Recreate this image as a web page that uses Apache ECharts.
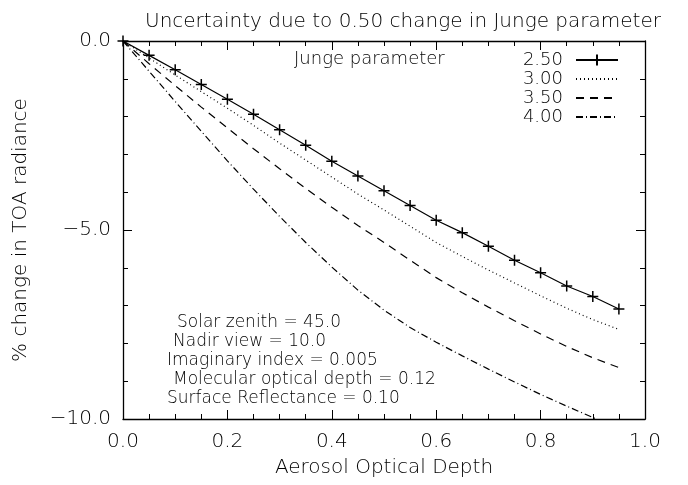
<!DOCTYPE html>
<html>
<head>
<meta charset="utf-8">
<script src="https://cdn.jsdelivr.net/npm/echarts@6/dist/echarts.min.js"></script>
<style>
  html, body { margin: 0; padding: 0; background: #fff; }
  #uncertainty-chart { width: 688px; height: 485px; }
</style>
</head>
<body>
<div id="uncertainty-chart"></div>
<script>
// aerosol optical depth (x)
var aod = [0, 0.05, 0.10, 0.15, 0.20, 0.25, 0.30, 0.35, 0.40, 0.45, 0.50,
           0.55, 0.60, 0.65, 0.70, 0.75, 0.80, 0.85, 0.90, 0.95];
// % change in TOA radiance for each Junge parameter
var junge250 = [0, -0.38, -0.76, -1.15, -1.54, -1.94, -2.35, -2.76, -3.18, -3.57, -3.96,
                -4.35, -4.74, -5.07, -5.43, -5.80, -6.13, -6.48, -6.76, -7.09];
var junge300 = [0, -0.45, -0.90, -1.34, -1.78, -2.23, -2.70, -3.15, -3.60, -4.05, -4.47,
                -4.90, -5.33, -5.70, -6.06, -6.40, -6.74, -7.07, -7.37, -7.63];
var junge350 = [0, -0.60, -1.18, -1.75, -2.30, -2.85, -3.38, -3.90, -4.40, -4.88, -5.33,
                -5.80, -6.26, -6.66, -7.04, -7.40, -7.75, -8.08, -8.38, -8.64];
var junge400 = [0, -0.80, -1.60, -2.39, -3.17, -3.92, -4.64, -5.33, -5.98, -6.59, -7.12,
                -7.58, -7.97, -8.33, -8.68, -9.02, -9.35, -9.66, -9.96, -10.26];
var legendNames = ["2.50", "3.00", "3.50", "4.00"];
var xTicks = { min: 0, max: 1, interval: 0.2 };
var yTicks = { min: -10, max: 0, interval: 5 };
var infoLines = [
  "Solar zenith = 45.0",
  "Nadir view = 10.0",
  "Imaginary index = 0.005",
  "Molecular optical depth = 0.12",
  "Surface Reflectance = 0.10"
];

var FONT = "DejaVu Sans";

function pairs(ys) {
  var out = [];
  for (var i = 0; i < aod.length; i++) {
    out.push([aod[i], ys[i]]);
  }
  return out;
}

function fmt(v) {
  return v.toFixed(1).replace("-", "\u2212");
}

function makeX(pos, showLabel) {
  return {
    type: "value",
    position: pos,
    min: xTicks.min,
    max: xTicks.max,
    interval: xTicks.interval,
    name: showLabel ? "Aerosol Optical Depth" : "",
    nameLocation: "middle",
    nameGap: 39,
    nameTextStyle: { color: "#000", fontSize: 20, fontFamily: FONT, fontWeight: 200 },
    axisLine: { show: true, onZero: false, lineStyle: { color: "#000", width: 1.3 } },
    axisTick: { show: true, inside: true, length: 9, lineStyle: { color: "#000", width: 1 } },
    minorTick: { show: true, splitNumber: 4, length: 5, lineStyle: { color: "#000", width: 1 } },
    splitLine: { show: false },
    axisLabel: {
      show: showLabel,
      margin: 13,
      color: "#000",
      fontSize: 20,
      fontFamily: FONT,
      fontWeight: 200,
      formatter: fmt
    }
  };
}

function makeY(pos, showLabel) {
  return {
    type: "value",
    position: pos,
    min: yTicks.min,
    max: yTicks.max,
    interval: yTicks.interval,
    name: showLabel ? "% change in TOA radiance" : "",
    nameLocation: "middle",
    nameGap: 92,
    nameRotate: 90,
    nameTextStyle: { color: "#000", fontSize: 20, fontFamily: FONT, fontWeight: 200 },
    axisLine: { show: true, onZero: false, lineStyle: { color: "#000", width: 1.3 } },
    axisTick: { show: true, inside: true, length: 9, lineStyle: { color: "#000", width: 1 } },
    minorTick: { show: true, splitNumber: 5, length: 5, lineStyle: { color: "#000", width: 1 } },
    splitLine: { show: false },
    axisLabel: {
      show: showLabel,
      margin: 12,
      color: "#000",
      fontSize: 20,
      fontFamily: FONT,
      fontWeight: 200,
      formatter: fmt
    }
  };
}

var plusSymbol = "path://M0,-6 L0,6 M-6,0 L6,0";

function lineSeries(name, ys, dash, withMarks) {
  return {
    name: name,
    type: "line",
    data: pairs(ys),
    xAxisIndex: 0,
    yAxisIndex: 0,
    clip: true,
    silent: true,
    symbol: withMarks ? plusSymbol : "none",
    symbolSize: 11,
    showSymbol: withMarks,
    // series without marks get an invisible legend symbol
    itemStyle: withMarks
      ? { color: "transparent", borderColor: "#000", borderWidth: 1.5 }
      : { color: "transparent", borderColor: "transparent", borderWidth: 0 },
    lineStyle: { color: "#000", width: 1.2, type: dash },
    emphasis: { disabled: true },
    animation: false
  };
}

var infoTop = [314, 333, 352, 371, 390];
var infoLeft = [177, 173, 167, 173, 167];
var graphics = [];
for (var k = 0; k < infoLines.length; k++) {
  graphics.push({
    type: "text",
    left: infoLeft[k],
    top: infoTop[k],
    style: { text: infoLines[k], fill: "#000", fontSize: 17, fontFamily: FONT, fontWeight: 200 }
  });
}

var option = {
  backgroundColor: "#fff",
  animation: false,
  title: [
    {
      text: "Uncertainty due to 0.50 change in Junge parameter",
      left: 140,
      top: 7,
      textStyle: { color: "#000", fontSize: 20, fontFamily: FONT, fontWeight: 200 }
    },
    {
      text: "Junge parameter",
      left: 289,
      top: 45,
      textStyle: { color: "#000", fontSize: 18, fontFamily: FONT, fontWeight: 200 }
    }
  ],
  legend: {
    data: legendNames,
    orient: "vertical",
    right: 64,
    top: 46,
    align: "right",
    itemWidth: 42,
    itemHeight: 14,
    itemGap: 1,
    selectedMode: false,
    textStyle: {
      color: "#000", fontSize: 18, lineHeight: 16, fontFamily: FONT, fontWeight: 200,
      padding: [0, 8, 0, 0]
    }
  },
  grid: { left: 123, right: 43, top: 41, bottom: 66 },
  xAxis: [makeX("bottom", true), makeX("top", false)],
  yAxis: [makeY("left", true), makeY("right", false)],
  graphic: graphics,
  series: [
    lineSeries(legendNames[0], junge250, "solid", true),
    lineSeries(legendNames[1], junge300, [1, 3], false),
    lineSeries(legendNames[2], junge350, [8, 6], false),
    lineSeries(legendNames[3], junge400, [7, 3, 1, 3], false)
  ]
};

var chart = echarts.init(document.getElementById("uncertainty-chart"));
chart.setOption(option);
</script>
</body>
</html>
